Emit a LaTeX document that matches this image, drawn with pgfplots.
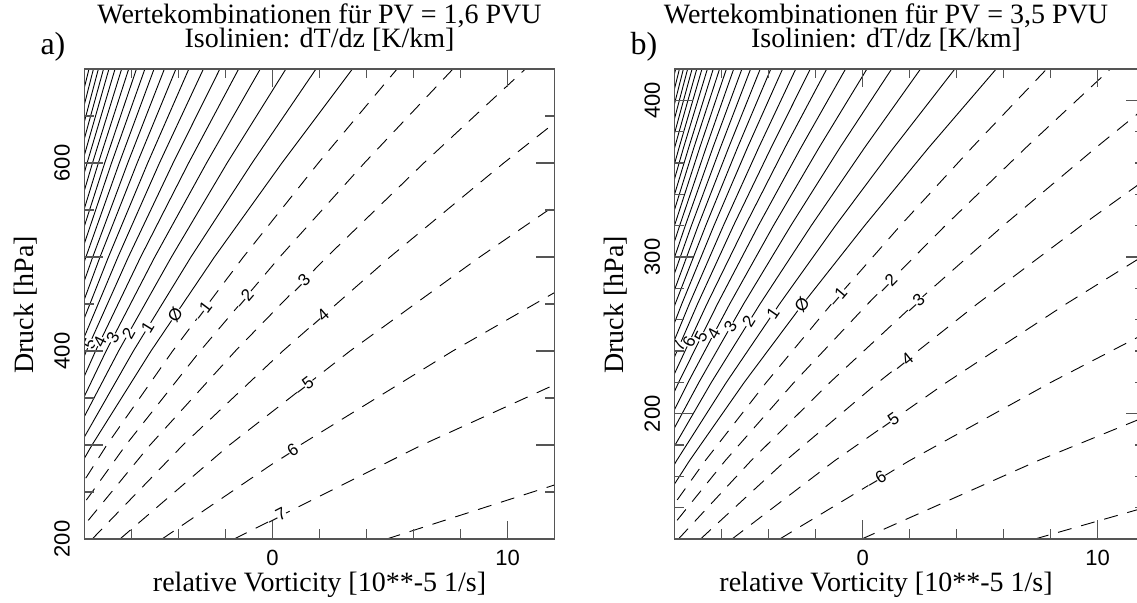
\documentclass[border=0pt]{standalone}
\usepackage{fontspec}
\setmainfont{Liberation Serif}
\newfontfamily\lsans{Liberation Sans}
\usepackage{pgfplots}
\pgfplotsset{compat=1.18}
\definecolor{axgray}{HTML}{555555}

\pgfplotsset{
  panel/.style={
    scale only axis, width=470pt, height=470pt,
    xmin=-8, xmax=12,
    axis on top,
    axis line style={axgray, line width=1.3pt},
    tick style={axgray, line width=1.2pt},
    major tick length=18.5pt, minor tick length=9.5pt,
    tick align=inside, tick pos=both,
    xticklabel pos=lower, yticklabel pos=left,
    xtick={0,10}, xticklabels={0,10},
    minor xtick={-6,-4,-2,2,4,6,8},
    /pgf/number format/assume math mode=true,
    tick label style={font=\lsans\fontsize{22}{22}\selectfont, text=black},
    xticklabel style={inner sep=0pt, yshift=-11pt},
    yticklabel style={xshift=-14.5pt, rotate=90, anchor=south, inner sep=0pt},
  },
  cl/.style={black, line width=0.9pt, no markers},
  neg/.style={dash pattern=on 14pt off 10pt},
}
\tikzset{clab/.style={font=\lsans\fontsize{17}{17}\selectfont, fill=white, inner sep=0.3pt}}

\begin{document}
\begin{tikzpicture}[x=1pt,y=1pt]

% ---------- panel a: PV = 1,6 PVU ----------
\begin{axis}[panel, at={(84.5pt,63pt)}, anchor=south west,
  ymin=200, ymax=700,
  ytick={200,300,400,500,600,700}, yticklabels={200,,400,,600,},
  minor ytick={250,350,450,550,650}]
% dashed: dT/dz = -8 ... -1
\addplot[cl,neg] coordinates {(4.86,200) (17.28,300)};
\addplot[cl,neg] coordinates {(-1.63,200) (6.36,300) (15.16,400)};
\addplot[cl,neg] coordinates {(-4.70,200) (1.18,300) (7.67,400) (14.64,500)};
\addplot[cl,neg] coordinates {(-6.49,200) (-1.83,300) (3.30,400) (8.82,500) (14.66,600)};
\addplot[cl,neg] coordinates {(-7.67,200) (-3.81,300) (0.44,400) (5.00,500) (9.84,600) (14.91,700)};
\addplot[cl,neg] coordinates {(-8.49,200) (-5.21,300) (-1.58,400) (2.31,500) (6.44,600) (10.76,700)};
\addplot[cl,neg] coordinates {(-9.11,200) (-6.24,300) (-3.08,400) (0.31,500) (3.91,600) (7.68,700)};
\addplot[cl,neg] coordinates {(-9.59,200) (-7.05,300) (-4.25,400) (-1.24,500) (1.95,600) (5.30,700)};
% solid: dT/dz = 0 ... 21
\addplot[cl] coordinates {(-9.97,200) (-7.68,300) (-5.17,400) (-2.47,500) (0.40,600) (3.40,700)};
\addplot[cl] coordinates {(-8.20,300) (-5.92,400) (-3.47,500) (-0.87,600) (1.85,700)};
\addplot[cl] coordinates {(-8.64,300) (-6.55,400) (-4.30,500) (-1.93,600) (0.57,700)};
\addplot[cl] coordinates {(-9.00,300) (-7.08,400) (-5.01,500) (-2.81,600) (-0.52,700)};
\addplot[cl] coordinates {(-9.31,300) (-7.53,400) (-5.61,500) (-3.57,600) (-1.44,700)};
\addplot[cl] coordinates {(-9.58,300) (-7.92,400) (-6.13,500) (-4.23,600) (-2.24,700)};
\addplot[cl] coordinates {(-8.26,400) (-6.58,500) (-4.81,600) (-2.94,700)};
\addplot[cl] coordinates {(-8.56,400) (-6.98,500) (-5.31,600) (-3.56,700)};
\addplot[cl] coordinates {(-8.82,400) (-7.34,500) (-5.76,600) (-4.11,700)};
\addplot[cl] coordinates {(-9.06,400) (-7.65,500) (-6.16,600) (-4.60,700)};
\addplot[cl] coordinates {(-9.28,400) (-7.94,500) (-6.52,600) (-5.04,700)};
\addplot[cl] coordinates {(-9.47,400) (-8.20,500) (-6.85,600) (-5.43,700)};
\addplot[cl] coordinates {(-8.43,500) (-7.14,600) (-5.79,700)};
\addplot[cl] coordinates {(-8.64,500) (-7.41,600) (-6.12,700)};
\addplot[cl] coordinates {(-8.84,500) (-7.66,600) (-6.42,700)};
\addplot[cl] coordinates {(-9.02,500) (-7.89,600) (-6.70,700)};
\addplot[cl] coordinates {(-9.19,500) (-8.10,600) (-6.96,700)};
\addplot[cl] coordinates {(-8.29,600) (-7.19,700)};
\addplot[cl] coordinates {(-8.47,600) (-7.41,700)};
\addplot[cl] coordinates {(-8.64,600) (-7.62,700)};
\addplot[cl] coordinates {(-8.80,600) (-7.81,700)};
\addplot[cl] coordinates {(-8.94,600) (-7.99,700)};
% contour labels
\node[clab,rotate=65.6] at (axis cs:-7.78,408) {5};
\node[clab,rotate=64.2] at (axis cs:-7.34,410) {4};
\node[clab,rotate=62.5] at (axis cs:-6.79,414) {3};
\node[clab,rotate=60.5] at (axis cs:-6.13,419) {2};
\node[clab,rotate=58.4] at (axis cs:-5.31,425.5) {1};
\node[clab,rotate=56.0] at (axis cs:-4.14,439) {Ø};
\node[clab,rotate=52.9] at (axis cs:-2.97,443) {–1};
\node[clab,rotate=49.3] at (axis cs:-1.21,456) {–2};
\node[clab,rotate=45.2] at (axis cs:1.20,472) {–3};
\node[clab,rotate=41.2] at (axis cs:2.00,435) {–4};
\node[clab,rotate=37.2] at (axis cs:1.35,363) {–5};
\node[clab,rotate=32.5] at (axis cs:0.69,292) {–6};
\node[clab,rotate=27.3] at (axis cs:0.18,223.7) {–7};
\end{axis}

% ---------- panel b: PV = 3,5 PVU ----------
\begin{axis}[panel, at={(674.7pt,63pt)}, anchor=south west,
  ymin=120, ymax=420,
  ytick={200,300,400}, yticklabels={200,300,400},
  minor ytick={140,160,180,220,240,260,280,320,340,360,380}]
\addplot[cl,neg] coordinates {(7.33,120) (18.99,170)};
\addplot[cl,neg] coordinates {(-0.04,120) (7.46,170) (15.62,220)};
\addplot[cl,neg] coordinates {(-3.53,120) (1.99,170) (8.01,220) (14.43,270)};
\addplot[cl,neg] coordinates {(-5.56,120) (-1.19,170) (3.57,220) (8.65,270) (14.01,320)};
\addplot[cl,neg] coordinates {(-6.90,120) (-3.28,170) (0.66,220) (4.87,270) (9.30,320) (13.94,370)};
\addplot[cl,neg] coordinates {(-7.84,120) (-4.75,170) (-1.39,220) (2.20,270) (5.98,320) (9.94,370) (14.05,420)};
\addplot[cl,neg] coordinates {(-8.54,120) (-5.85,170) (-2.92,220) (0.21,270) (3.51,320) (6.96,370) (10.54,420)};
\addplot[cl,neg] coordinates {(-9.08,120) (-6.70,170) (-4.10,220) (-1.33,270) (1.60,320) (4.66,370) (7.83,420)};
\addplot[cl] coordinates {(-9.51,120) (-7.37,170) (-5.04,220) (-2.55,270) (0.08,320) (2.82,370) (5.68,420)};
\addplot[cl] coordinates {(-9.86,120) (-7.92,170) (-5.80,220) (-3.54,270) (-1.16,320) (1.33,370) (3.92,420)};
\addplot[cl] coordinates {(-8.37,170) (-6.44,220) (-4.37,270) (-2.19,320) (0.09,370) (2.46,420)};
\addplot[cl] coordinates {(-8.76,170) (-6.97,220) (-5.07,270) (-3.06,320) (-0.96,370) (1.23,420)};
\addplot[cl] coordinates {(-9.09,170) (-7.43,220) (-5.66,270) (-3.80,320) (-1.85,370) (0.18,420)};
\addplot[cl] coordinates {(-9.37,170) (-7.83,220) (-6.18,270) (-4.44,320) (-2.62,370) (-0.73,420)};
\addplot[cl] coordinates {(-8.18,220) (-6.63,270) (-5.00,320) (-3.30,370) (-1.53,420)};
\addplot[cl] coordinates {(-8.48,220) (-7.03,270) (-5.50,320) (-3.89,370) (-2.23,420)};
\addplot[cl] coordinates {(-8.75,220) (-7.38,270) (-5.93,320) (-4.42,370) (-2.85,420)};
\addplot[cl] coordinates {(-8.99,220) (-7.70,270) (-6.33,320) (-4.90,370) (-3.41,420)};
\addplot[cl] coordinates {(-9.21,220) (-7.98,270) (-6.68,320) (-5.32,370) (-3.91,420)};
\addplot[cl] coordinates {(-8.23,270) (-7.00,320) (-5.70,370) (-4.36,420)};
\addplot[cl] coordinates {(-8.47,270) (-7.29,320) (-6.05,370) (-4.77,420)};
\addplot[cl] coordinates {(-8.68,270) (-7.55,320) (-6.37,370) (-5.14,420)};
\addplot[cl] coordinates {(-8.87,270) (-7.79,320) (-6.66,370) (-5.49,420)};
\addplot[cl] coordinates {(-9.05,270) (-8.01,320) (-6.93,370) (-5.80,420)};
\addplot[cl] coordinates {(-8.22,320) (-7.18,370) (-6.09,420)};
\addplot[cl] coordinates {(-8.41,320) (-7.40,370) (-6.36,420)};
\addplot[cl] coordinates {(-8.58,320) (-7.62,370) (-6.61,420)};
\addplot[cl] coordinates {(-8.75,320) (-7.81,370) (-6.84,420)};
\addplot[cl] coordinates {(-8.90,320) (-8.00,370) (-7.06,420)};
\addplot[cl] coordinates {(-8.17,370) (-7.26,420)};
\addplot[cl] coordinates {(-8.33,370) (-7.45,420)};
\addplot[cl] coordinates {(-8.48,370) (-7.63,420)};
\addplot[cl] coordinates {(-8.63,370) (-7.80,420)};
\addplot[cl] coordinates {(-8.76,370) (-7.96,420)};
\node[clab,rotate=66.5] at (axis cs:-7.82,243) {7};
\node[clab,rotate=65.1] at (axis cs:-7.39,245.9) {6};
\node[clab,rotate=63.6] at (axis cs:-6.88,249.1) {5};
\node[clab,rotate=61.9] at (axis cs:-6.34,251.3) {4};
\node[clab,rotate=59.9] at (axis cs:-5.63,255.5) {3};
\node[clab,rotate=57.8] at (axis cs:-4.85,258.7) {2};
\node[clab,rotate=55.3] at (axis cs:-3.82,264.0) {1};
\node[clab,rotate=52.5] at (axis cs:-2.58,269.3) {Ø};
\node[clab,rotate=49.3] at (axis cs:-1.06,274.6) {–1};
\node[clab,rotate=45.6] at (axis cs:1.06,283.2) {–2};
\node[clab,rotate=42.1] at (axis cs:2.23,270.4) {–3};
\node[clab,rotate=38.8] at (axis cs:1.74,233.1) {–4};
\node[clab,rotate=35.0] at (axis cs:1.14,194.9) {–5};
\node[clab,rotate=30.5] at (axis cs:0.59,157.7) {–6};
\end{axis}

% ---------- titles and axis labels ----------
\begin{scope}[every node/.style={font=\fontsize{28}{28}\selectfont}]
\node[anchor=base] at (319.5,578) {Wertekombinationen für PV = 1,6 PVU};
\node[anchor=base] at (319.5,554) {Isolinien: dT/dz [K/km]};
\node[anchor=base west,font=\fontsize{32}{32}\selectfont] at (37,547) {a)};
\node[anchor=base] at (319.5,10) {relative Vorticity [10**-5 1/s]};
\node[anchor=base,rotate=90] at (33,297) {Druck [hPa]};
\node[anchor=base] at (886,578) {Wertekombinationen für PV = 3,5 PVU};
\node[anchor=base] at (886,554) {Isolinien: dT/dz [K/km]};
\node[anchor=base west,font=\fontsize{32}{32}\selectfont] at (627,547) {b)};
\node[anchor=base] at (886,10) {relative Vorticity [10**-5 1/s]};
\node[anchor=base,rotate=90] at (623,297) {Druck [hPa]};
\end{scope}

\pgfresetboundingbox
\path[use as bounding box] (0,0) rectangle (1137,602);
\end{tikzpicture}
\end{document}
